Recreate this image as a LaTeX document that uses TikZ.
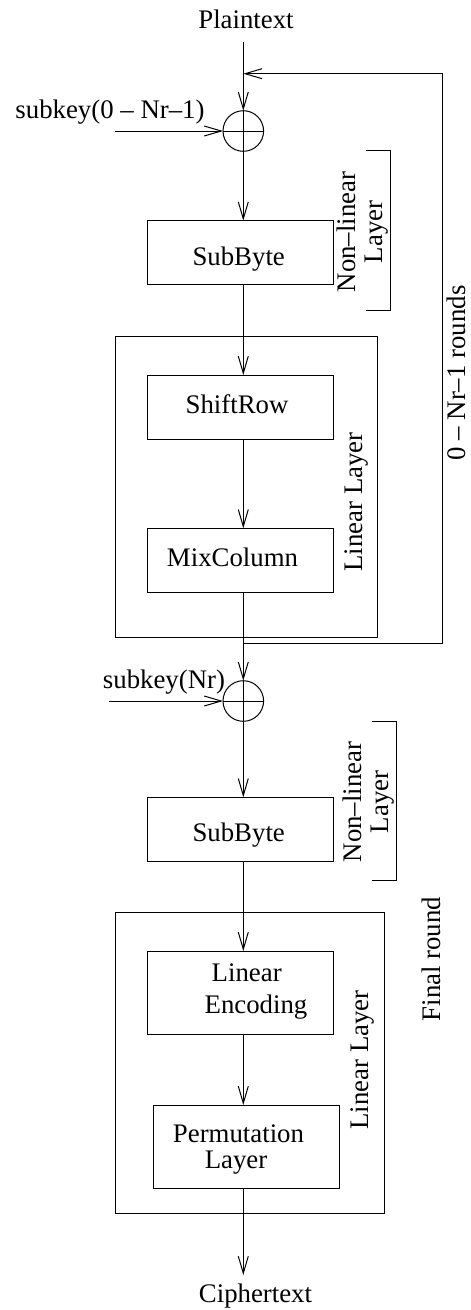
\documentclass[tikz,border=0pt]{standalone}
\usepackage{fontspec}
\setmainfont{Liberation Serif}
\usetikzlibrary{arrows.meta}
\begin{document}
\begin{tikzpicture}[x=1pt,y=-1pt,line width=1pt,
  every node/.style={font=\fontsize{26.8}{27}\selectfont},
  arr/.style={-{Straight Barb[length=17pt,width=10pt]}},
  blk/.style={draw,rectangle,inner sep=0pt,outer sep=0pt,minimum width=186pt},
  frame/.style={draw,rectangle,inner sep=0pt,outer sep=0pt},
  xorc/.style={draw,circle,inner sep=0pt,outer sep=0pt,minimum size=40.6pt,
    path picture={
      \draw (path picture bounding box.north) -- (path picture bounding box.south);
      \draw (path picture bounding box.west) -- (path picture bounding box.east);}},
  txt/.style={anchor=base,inner sep=0pt},
  vtxt/.style={rotate=90,inner sep=0pt,align=center}]
\useasboundingbox (0,0) rectangle (471,1310);

% ---- regular rounds ----
\node[txt] (pt) at (246,28.3) {Plaintext};
\coordinate (in1) at (243.3,42);
\node[xorc] (xor1) at (243.3,131) {};
\node[txt] (k1lab) at (110,118.3) {subkey(0 – Nr–1)};
\coordinate (k1) at (115,131);

\node[blk,minimum height=64.3pt] (sb1) at (240,252.8) {};
\node[txt] (sb1t) at (238.7,265.7) {SubByte};

\node[frame,minimum width=262.7pt,minimum height=300.6pt] (lin1) at (246.35,487) {};
\node[blk,minimum height=64pt] (sr) at (240,407) {};
\node[txt] (srt) at (237,413.3) {ShiftRow};
\node[blk,minimum height=64pt] (mc) at (240,560.3) {};
\node[txt] (mct) at (232.5,566.7) {MixColumn};

\draw (365.7,150.7) -- (390,150.7) -- (390,310) -- (365.7,310);
\node[vtxt] (nl1) at (362.7,232) {Non–linear\\Layer};
\node[vtxt] (ll1) at (357,502) {Linear Layer};

% feedback loop
\coordinate (fbs) at (243.3,643);
\coordinate (fbe) at (243.3,73.7);
\draw[arr] (fbs) -- ++(198.7,0) |- (fbe);
\node[rotate=90,inner sep=0pt,text depth=0pt,anchor=base] (rounds) at (465,373) {0 – Nr–1 rounds};

% ---- final round ----
\node[xorc] (xor2) at (243.3,701) {};
\node[txt] (k2lab) at (164,688.3) {subkey(Nr)};
\coordinate (k2) at (109,701);

\node[blk,minimum height=64.4pt] (sb2) at (240,829.5) {};
\node[txt] (sb2t) at (238.7,841.7) {SubByte};

\draw (371.7,721) -- (396.7,721) -- (396.7,880) -- (371.7,880);
\node[vtxt] (nl2) at (368.5,802) {Non–linear\\Layer};

\node[frame,minimum width=269pt,minimum height=300.6pt] (lin2) at (249.5,1063) {};
\node[blk,minimum height=83pt] (le) at (240,992.5) {};
\node[txt] (le1) at (246.7,981.7) {Linear};
\node[txt] (le2) at (256,1013.3) {Encoding};
\node[blk,minimum height=83pt] (pl) at (246.3,1146.5) {};
\node[txt] (pl1) at (238.5,1142.7) {Permutation};
\node[txt] (pl2) at (236,1168.3) {Layer};
\node[vtxt] (ll2) at (363,1060) {Linear Layer};
\node[vtxt] (fin) at (431,959) {Final round};

\coordinate (out) at (243.3,1275);
\node[txt] (ct) at (255.5,1302.7) {Ciphertext};

% ---- data path ----
\draw[arr] (in1) -- (xor1.north);
\draw[arr] (k1) -- (xor1.west);
\draw[arr] (xor1.south) -- (sb1.north -| xor1.south);
\draw[arr] (sb1.south -| xor1.south) -- (sr.north -| xor1.south);
\draw[arr] (sr.south -| xor1.south) -- (mc.north -| xor1.south);
\draw[arr] (mc.south -| xor1.south) -- (xor2.north);
\draw[arr] (k2) -- (xor2.west);
\draw[arr] (xor2.south) -- (sb2.north -| xor2.south);
\draw[arr] (sb2.south -| xor2.south) -- (le.north -| xor2.south);
\draw[arr] (le.south -| xor2.south) -- (pl.north -| xor2.south);
\draw[arr] (pl.south -| xor2.south) -- (out);
\end{tikzpicture}
\end{document}
